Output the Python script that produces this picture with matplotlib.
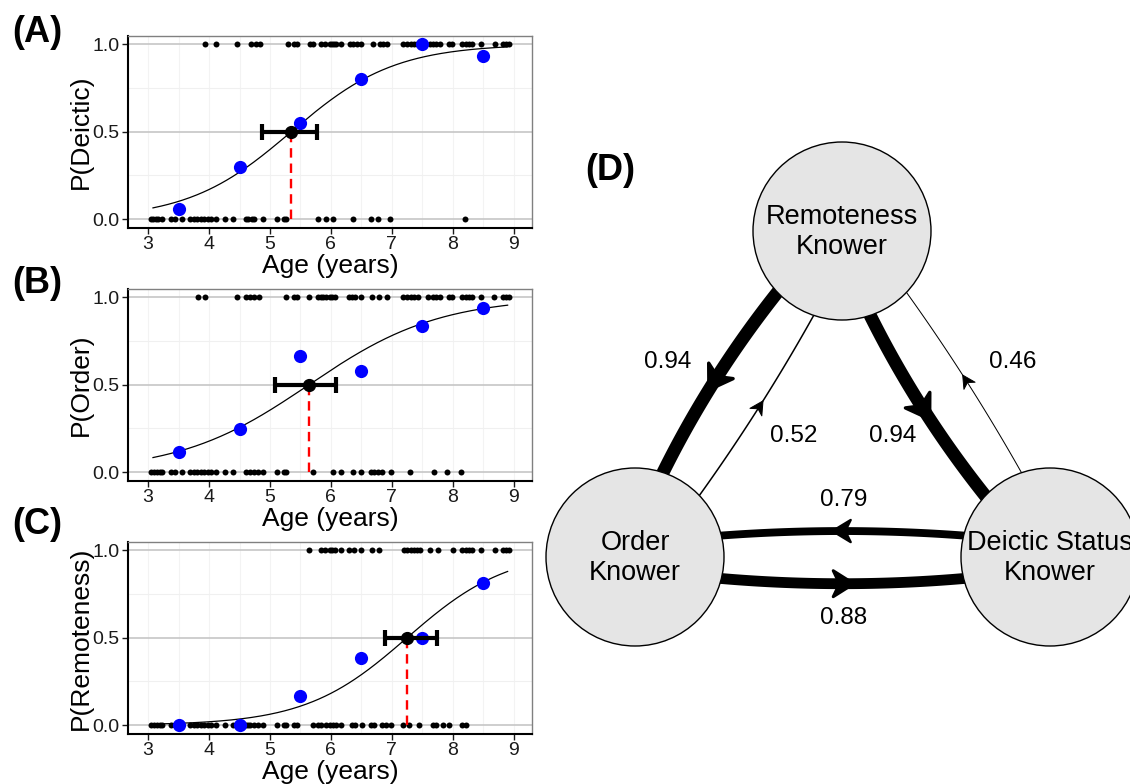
import numpy as np
import matplotlib.pyplot as plt
from matplotlib.patches import Circle, Polygon

plt.rcParams['font.family'] = ['Liberation Sans', 'DejaVu Sans']

# ---- panels A-C: raw responses (age of each child), binned means, fits ----
age_bins = [3.5, 4.5, 5.5, 6.5, 7.5, 8.5]

deictic_yes = [3.93, 4.11, 4.46, 4.69, 4.77, 4.83, 5.29, 5.39, 5.44, 5.65, 5.70, 5.84,
               5.90, 5.98, 6.02, 6.05, 6.09, 6.17, 6.31, 6.36, 6.43, 6.49, 6.69, 6.80,
               6.86, 6.92, 7.19, 7.25, 7.31, 7.36, 7.42, 7.53, 7.62, 7.67, 7.73, 7.79,
               7.93, 7.98, 8.15, 8.21, 8.27, 8.32, 8.46, 8.69, 8.83, 8.88, 8.92]
deictic_no = [3.05, 3.08, 3.13, 3.17, 3.22, 3.38, 3.44, 3.55, 3.69, 3.75, 3.81, 3.86,
              3.92, 3.98, 4.04, 4.12, 4.26, 4.40, 4.60, 4.64, 4.71, 4.74, 4.89, 5.11,
              5.23, 5.26, 5.78, 5.92, 6.04, 6.36, 6.66, 6.77, 6.97, 8.20]
deictic_bin = [0.06, 0.30, 0.55, 0.80, 1.00, 0.935]
deictic_mid, deictic_slope = 5.35, 1.175
deictic_ci = [4.87, 5.77]

order_yes = [3.82, 3.94, 4.46, 4.61, 4.67, 4.73, 4.82, 5.27, 5.39, 5.44, 5.64, 5.78,
             5.83, 5.87, 5.92, 5.98, 6.02, 6.06, 6.30, 6.35, 6.40, 6.49, 6.67, 6.79,
             6.92, 7.19, 7.25, 7.31, 7.36, 7.43, 7.59, 7.67, 7.73, 7.79, 7.93, 7.98,
             8.15, 8.21, 8.27, 8.32, 8.46, 8.68, 8.82, 8.88, 8.92]
order_no = [3.05, 3.09, 3.14, 3.19, 3.23, 3.37, 3.44, 3.55, 3.69, 3.75, 3.81, 3.86,
            3.92, 3.98, 4.04, 4.12, 4.26, 4.40, 4.60, 4.68, 4.74, 4.81, 4.89, 5.11,
            5.23, 5.27, 5.70, 6.04, 6.17, 6.36, 6.49, 6.66, 6.71, 6.77, 6.84, 6.98,
            7.30, 7.69, 7.90, 8.14]
order_bin = [0.118, 0.248, 0.666, 0.576, 0.834, 0.939]
order_mid, order_slope = 5.64, 0.934
order_ci = [5.08, 6.08]

remote_yes = [5.64, 5.84, 5.90, 5.98, 6.02, 6.06, 6.17, 6.30, 6.38, 6.49, 6.67, 6.79,
              7.20, 7.25, 7.31, 7.36, 7.42, 7.46, 7.62, 7.76, 8.01, 8.15, 8.21, 8.27,
              8.32, 8.46, 8.69, 8.83, 8.88, 8.92]
remote_no = [3.05, 3.09, 3.14, 3.19, 3.23, 3.37, 3.44, 3.55, 3.69, 3.75, 3.81, 3.86,
             3.92, 3.98, 4.04, 4.12, 4.26, 4.40, 4.54, 4.60, 4.64, 4.68, 4.74, 4.81,
             4.89, 5.11, 5.23, 5.27, 5.39, 5.44, 5.70, 5.78, 5.84, 5.92, 5.98, 6.04,
             6.09, 6.17, 6.35, 6.40, 6.51, 6.66, 6.71, 6.84, 6.91, 6.98, 7.19, 7.28,
             7.45, 7.67, 7.73, 7.84, 7.93, 8.15, 8.21]
remote_bin = [0.0, 0.0, 0.166, 0.385, 0.50, 0.811]
remote_mid, remote_slope = 7.25, 1.2
remote_ci = [6.89, 7.74]

# ---- panel D: transition network ----
node_names = ['Remoteness\nKnower', 'Order\nKnower', 'Deictic Status\nKnower']
node_x = [842, 635, 1050]
node_y = [231, 557, 557]
edge_from = [0, 1, 0, 2, 2, 1]
edge_to = [1, 0, 2, 0, 1, 2]
edge_weight = [0.94, 0.52, 0.94, 0.46, 0.79, 0.88]
edge_label_x = [668, 794, 893, 1013, 844, 844]
edge_label_y = [362, 436, 436, 362, 500, 618]

W, H = 1130, 784
fig = plt.figure(figsize=(W / 100, H / 100), dpi=100)


def px_axes(x0, y0, x1, y1):
    return fig.add_axes([x0 / W, 1 - y1 / H, (x1 - x0) / W, (y1 - y0) / H])


def logistic_panel(ax, yes, no, binned, mid, slope, ci, ylab):
    ax.set_xlim(2.67, 9.3)
    ax.set_ylim(-0.05, 1.047)
    for x in np.arange(3, 9.01, 0.5):
        ax.axvline(x, color='#f3f3f3', lw=0.8, zorder=0)
    for y in [0.25, 0.75]:
        ax.axhline(y, color='#f0f0f0', lw=0.8, zorder=0)
    for y in [0.0, 0.5, 1.0]:
        ax.axhline(y, color='#c6c6c6', lw=1.2, zorder=0.5)
    ax.plot(no, np.zeros(len(no)), 'o', color='black', ms=4.3, mec='none', zorder=2)
    ax.plot(yes, np.ones(len(yes)), 'o', color='black', ms=4.3, mec='none', zorder=2)
    xs = np.linspace(3.08, 8.9, 300)
    ax.plot(xs, 1 / (1 + np.exp(-slope * (xs - mid))), color='black', lw=0.9, zorder=3)
    ax.plot([mid, mid], [0, 0.5], color='red', lw=1.7, ls=(0, (4, 2.5)), zorder=3)
    ax.plot(age_bins, binned, 'o', color='blue', ms=9.5, mec='none', zorder=4)
    ax.errorbar([mid], [0.5], xerr=[[mid - ci[0]], [ci[1] - mid]], fmt='o', color='black',
                ms=8.5, elinewidth=3, capsize=6, capthick=3, zorder=5)
    ax.set_xticks(range(3, 10))
    ax.set_yticks([0, 0.5, 1.0])
    ax.set_yticklabels(['0.0', '0.5', '1.0'])
    ax.tick_params(length=4, width=1, labelsize=14, colors='#1a1a1a', pad=2)
    for s in ['left', 'bottom']:
        ax.spines[s].set_color('black')
        ax.spines[s].set_linewidth(1.5)
    for s in ['top', 'right']:
        ax.spines[s].set_color('#808080')
        ax.spines[s].set_linewidth(1.0)
    ax.set_xlabel('Age (years)', fontsize=19)
    ax.set_ylabel(ylab, fontsize=19)
    ax.xaxis.set_label_coords(0.5, -0.135)
    ax.yaxis.set_label_coords(-0.087, 0.5)


axA = px_axes(128, 36, 532, 228)
logistic_panel(axA, deictic_yes, deictic_no, deictic_bin, deictic_mid, deictic_slope,
               deictic_ci, 'P(Deictic)')
axB = px_axes(128, 289, 532, 481)
logistic_panel(axB, order_yes, order_no, order_bin, order_mid, order_slope,
               order_ci, 'P(Order)')
axC = px_axes(128, 542, 532, 734)
logistic_panel(axC, remote_yes, remote_no, remote_bin, remote_mid, remote_slope,
               remote_ci, 'P(Remoteness)')

for lab, y in [('(A)', 33), ('(B)', 283), ('(C)', 524), ('(D)', 170)]:
    x = 610 if lab == '(D)' else 37
    fig.text(x / W, 1 - y / H, lab, fontsize=26, fontweight='bold', ha='center', va='center')

# network
axD = px_axes(540, 130, 1130, 784)
axD.set_xlim(540, 1130)
axD.set_ylim(784, 130)
axD.axis('off')

r = 89
off = 21
for i in range(len(edge_weight)):
    s = np.array([node_x[edge_from[i]], node_y[edge_from[i]]], float)
    t = np.array([node_x[edge_to[i]], node_y[edge_to[i]]], float)
    d = (t - s) / np.linalg.norm(t - s)
    n = np.array([-d[1], d[0]])
    along = np.sqrt(r ** 2 - off ** 2)
    p0 = s + off * n + (along - 6) * d
    p2 = t + off * n - (along - 6) * d
    lw_px = 1 + 12 * ((edge_weight[i] - 0.46) / 0.48) ** 1.5
    bend = 3 + 0.25 * lw_px
    c = (p0 + p2) / 2 + 2 * bend * n
    tt = np.linspace(0, 1, 100)[:, None]
    curve = (1 - tt) ** 2 * p0 + 2 * (1 - tt) * tt * c + tt ** 2 * p2
    axD.plot(curve[:, 0], curve[:, 1], color='black', lw=lw_px * 0.72,
             solid_capstyle='butt', zorder=1)
    m = 0.25 * p0 + 0.5 * c + 0.25 * p2
    L = 12 + 0.8 * lw_px
    Wd = 6 + 0.65 * lw_px
    local = [(0.55 * L, 0), (-0.45 * L, Wd), (-0.15 * L, 0), (-0.45 * L, -Wd)]
    pts = [m + u * d + v * n for u, v in local]
    axD.add_patch(Polygon(pts, closed=True, fc='black', ec='black',
                          lw=0.5 + 0.15 * lw_px, joinstyle='round', zorder=2))
    axD.text(edge_label_x[i], edge_label_y[i], f'{edge_weight[i]:.2f}', fontsize=17.5,
             ha='center', va='center', zorder=4)

for name, x, y in zip(node_names, node_x, node_y):
    axD.add_patch(Circle((x, y), r, fc='#e5e5e5', ec='black', lw=1.0, zorder=3))
    axD.text(x, y + 1, name, fontsize=19.5, ha='center', va='center', zorder=4,
             linespacing=1.25, clip_on=True)

fig.savefig('out.png', dpi=100)
